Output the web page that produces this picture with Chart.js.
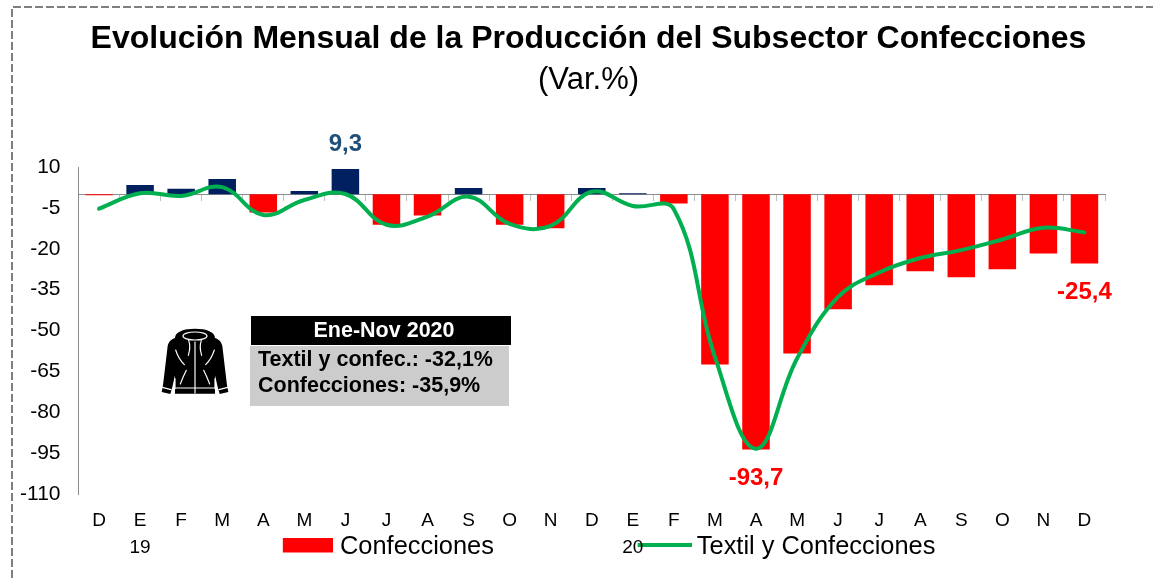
<!DOCTYPE html>
<html><head><meta charset="utf-8">
<style>html,body{margin:0;padding:0;background:#fff}canvas{display:block}</style>
<script src="https://cdn.jsdelivr.net/npm/chart.js@4/dist/chart.umd.min.js"></script>
</head><body><canvas id="c" width="1153" height="578"></canvas>
<script>
const categories=[["D"],["E","19"],["F"],["M"],["A"],["M"],["J"],["J"],["A"],["S"],["O"],["N"],["D"],["E","20"],["F"],["M"],["A"],["M"],["J"],["J"],["A"],["S"],["O"],["N"],["D"]];
const confecciones=[-0.4,3.4,2.0,5.6,-6.7,1.2,9.3,-11.2,-7.8,2.3,-11.2,-12.5,2.3,0.4,-3.4,-62.5,-93.7,-58.4,-42.2,-33.4,-28.3,-30.5,-27.5,-21.7,-25.4];
const textilConfecciones=[-5.3,0.4,-0.6,2.6,-7.6,-2.1,0.1,-11.2,-8.2,-0.9,-10.9,-11.6,0.9,-4.3,-5.5,-59.7,-93.4,-60.3,-37.7,-28.7,-23.4,-20.5,-16.6,-12.3,-14];
const yTicksMin=-110,yTicksMax=10,yStep=15;
const pointLabels=[{i:6,text:"9,3",color:"#1F4E79",dy:-24.5},{i:16,text:"-93,7",color:"#FF0000",dy:28.5},{i:24,text:"-25,4",color:"#FF0000",dy:29}];
const FONT='"Liberation Sans", Arial, sans-serif';
const LEG_PAD=145.3, LEG_SIZE=25.4;

function swatch(w,h,color){
  const c=document.createElement('canvas');c.width=w+6;c.height=h+4;
  const g=c.getContext('2d');g.fillStyle=color;g.fillRect(6,0,w,h);return c;
}
const swatches=[swatch(50,15,'#FF0000'),swatch(54,4,'#00B050')];

const decor={id:'decor',
  beforeDraw(chart){
    const l=chart.legend;
    l.left=282.3-LEG_PAD;l.right=1153;
    l.top=547-LEG_PAD-LEG_SIZE/2;
    const ctx=chart.ctx;ctx.save();
    ctx.strokeStyle='#7F7F7F';ctx.lineWidth=2;ctx.setLineDash([8,3]);
    ctx.beginPath();ctx.moveTo(12,578);ctx.lineTo(12,7);ctx.lineTo(1153,7);ctx.stroke();
    ctx.restore();
  },
  afterDraw(chart){
    const ctx=chart.ctx;ctx.save();
    const meta=chart.getDatasetMeta(1);
    ctx.textAlign='center';ctx.textBaseline='middle';ctx.font='bold 24px '+FONT;
    pointLabels.forEach(p=>{const el=meta.data[p.i];ctx.fillStyle=p.color;ctx.fillText(p.text,el.x,el.y+p.dy);});
    // annotation box
    ctx.fillStyle='#000';ctx.fillRect(251,316,260,29);
    ctx.fillStyle='#CCCCCC';ctx.fillRect(250,346,259,60);
    ctx.fillStyle='#fff';ctx.font='bold 21.5px '+FONT;ctx.fillText('Ene-Nov 2020',384,331);
    ctx.textAlign='left';ctx.fillStyle='#000';
    ctx.fillText('Textil y confec.: -32,1%',258,360);
    ctx.fillText('Confecciones: -35,9%',258,386);
    // jacket icon
    ctx.translate(155,322);ctx.scale(1/3,1/3);
    ctx.fillStyle='#000';
    ctx.beginPath();ctx.moveTo(120,20);
    ctx.bezierCurveTo(85,20,60,30,60,48);ctx.bezierCurveTo(48,52,42,58,38,72);
    ctx.lineTo(24,190);ctx.lineTo(20,210);ctx.lineTo(46,216);ctx.lineTo(52,195);ctx.lineTo(60,160);
    ctx.lineTo(60,215);ctx.lineTo(180,215);ctx.lineTo(180,160);ctx.lineTo(188,195);ctx.lineTo(194,216);
    ctx.lineTo(220,210);ctx.lineTo(216,190);ctx.lineTo(202,72);
    ctx.bezierCurveTo(198,58,192,52,180,48);ctx.bezierCurveTo(180,30,155,20,120,20);
    ctx.closePath();ctx.fill();
    ctx.strokeStyle='#fff';ctx.lineWidth=3.5;ctx.lineCap='round';
    const seg=a=>{ctx.beginPath();ctx.moveTo(a[0],a[1]);if(a.length===4)ctx.lineTo(a[2],a[3]);else ctx.quadraticCurveTo(a[2],a[3],a[4],a[5]);ctx.stroke();};
    ctx.beginPath();ctx.ellipse(120,42,36,12,0,0,Math.PI*2);ctx.stroke();
    [[120,60,120,213],[101,55,108,75,100,100],[139,55,132,75,140,100],[62,84,70,110,88,128],[178,84,170,110,152,128],
     [94,145,84,165,76,186],[146,145,156,165,164,186],[62,198,178,198],[60,170,60,200],[180,170,180,200],[22,196,48,203],[218,196,192,203]].forEach(seg);
    ctx.restore();
  }
};

new Chart(document.getElementById('c'),{
  type:'bar',
  data:{labels:categories,datasets:[
    {type:'line',label:'Textil y Confecciones',data:textilConfecciones,borderColor:'#00B050',backgroundColor:'#00B050',borderWidth:4,pointRadius:0,tension:0.4,order:0,borderCapStyle:'round',clip:false},
    {type:'bar',label:'Confecciones',data:confecciones,backgroundColor:c=>c.raw>0?'#002060':'#FF0000',barPercentage:0.67,categoryPercentage:1,order:1}
  ]},
  options:{
    responsive:false,animation:false,devicePixelRatio:1,
    layout:{padding:{left:16,right:-8,top:0,bottom:0}},
    plugins:{
      title:{display:true,text:'Evolución Mensual de la Producción del Subsector Confecciones',color:'#000',font:{family:FONT,size:32,weight:'bold',lineHeight:1.2},padding:{top:20,bottom:3.6}},
      subtitle:{display:true,text:'(Var.%)',color:'#000',font:{family:FONT,size:31,weight:'normal',lineHeight:1.2},padding:{top:0,bottom:67.8}},
      legend:{display:true,position:'bottom',align:'start',maxHeight:10,reverse:true,
        labels:{color:'#000',font:{family:FONT,size:LEG_SIZE},padding:LEG_PAD,usePointStyle:true,pointStyleWidth:45,
          generateLabels(chart){
            const it=Chart.defaults.plugins.legend.labels.generateLabels(chart);
            it.forEach(x=>{x.pointStyle=x.text==='Confecciones'?swatches[0]:swatches[1];});
            return it;
          }}},
      tooltip:{enabled:false}
    },
    scales:{
      x:{type:'category',axis:'x',offset:true,grid:{display:false,drawTicks:false},border:{display:false},
        ticks:{color:'#000',font:{family:FONT,size:19,lineHeight:1.42},padding:13,autoSkip:false,maxRotation:0,minRotation:0},
        afterFit(s){s.height=578-494-(s.chart.legend?s.chart.legend.height:0);}},
      zero:{type:'category',axis:'x',labels:categories,offset:true,position:{y:0},
        grid:{display:true,offset:true,drawOnChartArea:false,drawTicks:true,tickLength:6,color:'#BFBFBF',lineWidth:1},
        border:{display:true,color:'#8C8C8C',width:1},
        ticks:{display:false,autoSkip:false}},
      y:{axis:'y',min:yTicksMin,max:yTicksMax,position:'left',grid:{display:false,drawTicks:false},border:{display:true,color:'#8C8C8C',width:1},
        ticks:{stepSize:yStep,color:'#000',font:{family:FONT,size:21},padding:18},
        afterFit(s){s.width=62.5;}},
      pad:{axis:'y',position:'right',display:true,grid:{display:false,drawTicks:false},border:{display:false},ticks:{display:false},afterFit(s){s.width=56;}}
    }
  },
  plugins:[decor]
});
</script></body></html>
